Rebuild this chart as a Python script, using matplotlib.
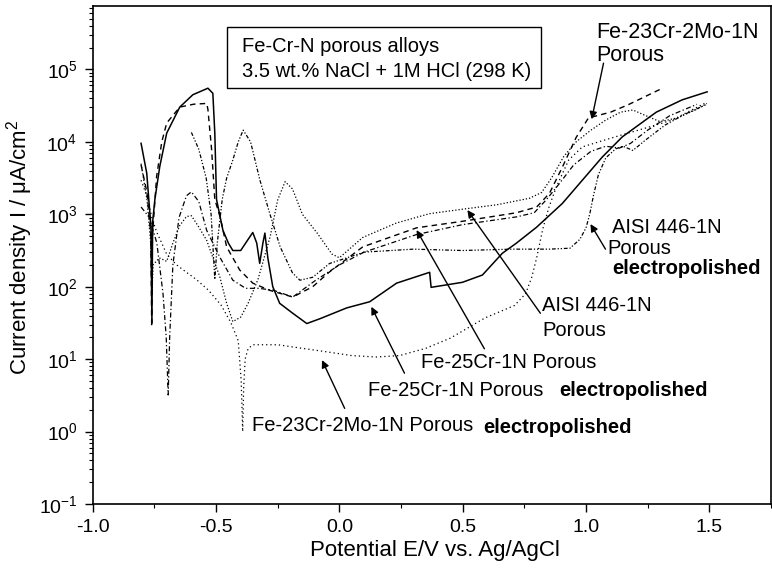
import matplotlib
matplotlib.use('Agg')
import matplotlib.pyplot as plt
from matplotlib.patches import Rectangle
from matplotlib.ticker import LogLocator, MultipleLocator, NullFormatter, FormatStrFormatter

plt.rcParams['font.family'] = ['Liberation Sans', 'DejaVu Sans']
plt.rcParams['mathtext.fontset'] = 'custom'
plt.rcParams['mathtext.rm'] = 'Liberation Sans'
plt.rcParams['mathtext.it'] = 'Liberation Sans:italic'
plt.rcParams['mathtext.bf'] = 'Liberation Sans:bold'
plt.rcParams['axes.unicode_minus'] = False

# ---------------- data (potential V, current density uA/cm2) ----------------
# Fe-25Cr-1N Porous electropolished (solid)
fe25_ep_x = [-0.804, -0.781, -0.764, -0.760, -0.757, -0.748, -0.728, -0.700, -0.647, -0.594,
             -0.533, -0.513, -0.505, -0.498, -0.472, -0.450, -0.432, -0.400, -0.370, -0.351,
             -0.335, -0.323, -0.310, -0.302, -0.290, -0.270, -0.242, -0.189, -0.132, -0.080,
             0.030, 0.123, 0.232, 0.366, 0.372, 0.499, 0.580, 0.661, 0.718, 0.799,
             0.904, 0.985, 1.066, 1.147, 1.285, 1.390, 1.491]
fe25_ep_y = [9550, 3700, 680, 32, 790, 1600, 4600, 13200, 30200, 44700,
             55000, 46800, 13200, 1600, 600, 400, 316, 316, 450, 560,
             400, 210, 400, 550, 250, 100, 59, 43, 31, 36,
             51, 62, 112, 158, 98, 115, 145, 290, 400, 660,
             1410, 2950, 6170, 11700, 25700, 38000, 49000]

# Fe-23Cr-2Mo-1N Porous (dashed)
fe23_x = [-0.804, -0.780, -0.764, -0.761, -0.758, -0.741, -0.720, -0.700, -0.647, -0.590,
          -0.538, -0.533, -0.518, -0.505, -0.484, -0.457, -0.404, -0.351, -0.282, -0.189,
          -0.108, -0.040, 0.095, 0.313, 0.499, 0.718, 0.800, 0.852, 0.904, 0.960,
          1.010, 1.100, 1.170, 1.310]
fe23_y = [4800, 2000, 500, 28, 500, 3300, 10000, 18200, 30200, 33100,
          33900, 28200, 7800, 1600, 930, 355, 170, 112, 89, 72,
          100, 160, 355, 650, 800, 1050, 1260, 1950, 4470, 11500,
          21400, 25700, 32400, 55000]

# Fe-25Cr-1N Porous (dash-dot)
fe25_x = [-0.804, -0.770, -0.740, -0.715, -0.702, -0.694, -0.688, -0.675, -0.650, -0.620,
          -0.600, -0.570, -0.538, -0.485, -0.432, -0.380, -0.330, -0.270, -0.189, -0.100,
          0.000, 0.100, 0.313, 0.500, 0.718, 0.790, 0.840, 0.890, 0.950, 1.020,
          1.080, 1.135, 1.180, 1.250, 1.340, 1.450]
fe25_y = [1260, 900, 400, 80, 20, 3.2, 20, 200, 900, 1800,
          2040, 1500, 600, 257, 123, 95, 95, 90, 72, 120,
          200, 300, 525, 720, 920, 1050, 1600, 2600, 4800, 7400,
          8700, 8200, 9500, 14500, 23000, 33000]

# AISI 446-1N Porous electropolished (dash-dot-dot)
aisi_ep_x = [-0.600, -0.570, -0.540, -0.520, -0.505, -0.495, -0.475, -0.457, -0.432, -0.410,
             -0.390, -0.360, -0.322, -0.282, -0.240, -0.190, -0.160, -0.108, -0.040, 0.100,
             0.300, 0.500, 0.700, 0.850, 0.935, 0.975, 1.000, 1.015, 1.030, 1.050,
             1.080, 1.120, 1.150, 1.190, 1.240, 1.320, 1.400, 1.490]
aisi_ep_y = [13500, 7900, 3160, 1000, 126, 400, 1600, 3160, 5600, 10000,
             14500, 10000, 2950, 1020, 355, 155, 123, 135, 209, 300,
             330, 316, 330, 330, 340, 450, 650, 1000, 1800, 3500,
             6000, 8000, 8700, 7600, 10500, 17000, 24000, 33000]

# AISI 446-1N Porous (fine dotted)
aisi_x = [-0.804, -0.780, -0.765, -0.760, -0.755, -0.730, -0.700, -0.675, -0.647, -0.620,
          -0.600, -0.575, -0.538, -0.485, -0.457, -0.432, -0.400, -0.370, -0.330, -0.280,
          -0.250, -0.220, -0.190, -0.150, -0.090, -0.030, 0.000, 0.095, 0.232, 0.366,
          0.520, 0.637, 0.770, 0.820, 0.860, 0.910, 0.960, 1.020, 1.080, 1.140,
          1.190, 1.250, 1.300, 1.370, 1.450, 1.490]
aisi_y = [5000, 1600, 400, 80, 200, 250, 224, 400, 700, 930,
          955, 710, 437, 138, 59, 33, 38, 59, 126, 500,
          1580, 2820, 2240, 1000, 550, 282, 251, 479, 759, 1020,
          1200, 1350, 1660, 2000, 3160, 6300, 10000, 14500, 20000, 25700,
          27500, 22400, 19000, 21400, 28200, 33900]

# Fe-23Cr-2Mo-1N Porous electropolished (dotted)
fe23_ep_x = [-0.804, -0.780, -0.760, -0.740, -0.720, -0.700, -0.660, -0.620, -0.580, -0.530,
             -0.480, -0.440, -0.410, -0.398, -0.392, -0.388, -0.382, -0.370, -0.350, -0.250,
             -0.150, -0.050, 0.050, 0.150, 0.244, 0.350, 0.450, 0.590, 0.710, 0.755,
             0.780, 0.800, 0.825, 0.850, 0.880, 0.930, 0.985, 1.080, 1.150, 1.250,
             1.350, 1.480]
fe23_ep_y = [2950, 1780, 890, 560, 400, 280, 200, 158, 126, 89,
             56, 32, 18, 5, 1.0, 4, 10, 14, 15.8, 15.8,
             14.1, 12.6, 11.2, 10.7, 11.2, 14.1, 19.5, 37, 55, 80,
             135, 251, 631, 1260, 2400, 5620, 8510, 10700, 12600, 15800,
             20000, 33900]

# ---------------- figure ----------------
fig = plt.figure(figsize=(7.72, 5.73), dpi=100)
ax = fig.add_axes([0.1201, 0.1204, 0.8786, 0.8691])

k = 'black'
ax.plot(fe25_ep_x, fe25_ep_y, color=k, lw=1.1, ls='-')
ax.plot(fe23_x, fe23_y, color=k, lw=1.0, ls=(0, (4, 3)))
ax.plot(fe25_x, fe25_y, color=k, lw=0.9, ls=(0, (4, 2, 1, 2)))
ax.plot(aisi_ep_x, aisi_ep_y, color=k, lw=0.9, ls=(0, (3, 1.5, 1, 1.5, 1, 1.5)))
ax.plot(aisi_x, aisi_y, color=k, lw=0.9, ls=(0, (1, 1.6)))
ax.plot(fe23_ep_x, fe23_ep_y, color=k, lw=0.9, ls=(0, (1, 2.4)))

ax.set_xlim(-1.0, 1.75)
ax.set_yscale('log')
ax.set_ylim(0.1, 7.5e5)

ax.xaxis.set_major_locator(MultipleLocator(0.5))
ax.xaxis.set_minor_locator(MultipleLocator(0.25))
ax.xaxis.set_major_formatter(FormatStrFormatter('%.1f'))
ax.yaxis.set_major_locator(LogLocator(base=10, numticks=20))
ax.yaxis.set_minor_locator(LogLocator(base=10, subs=range(2, 10), numticks=20))
ax.yaxis.set_minor_formatter(NullFormatter())

ax.tick_params(which='major', direction='out', length=6, width=1.0, labelsize=14, pad=5,
               top=False, right=False)
ax.tick_params(which='minor', direction='out', length=3, width=0.8, top=False, right=False)
for s in ax.spines.values():
    s.set_linewidth(1.2)

ax.set_xlabel('Potential E/V vs. Ag/AgCl', fontsize=16)
ax.set_ylabel('Current density I / \u03bcA/cm$^2$', fontsize=16)
ax.xaxis.set_label_coords(0.505, -0.073)
ax.yaxis.set_label_coords(-0.085, 0.516)

# info box
ax.add_patch(Rectangle((0.1976, 0.835), 0.4634, 0.123, transform=ax.transAxes,
                       fill=True, fc='white', ec=k, lw=1.0, zorder=5))
ax.text(0.2197, 0.9082, 'Fe-Cr-N porous alloys', transform=ax.transAxes,
        fontsize=14.5, va='baseline', ha='left', zorder=6)
ax.text(0.2197, 0.8568, '3.5 wt.% NaCl + 1M HCl (298 K)', transform=ax.transAxes,
        fontsize=14.5, va='baseline', ha='left', zorder=6)

fs = 14.5
def label(x, y, s, bold=False, size=fs):
    ax.text(x, y, s, fontsize=size, va='baseline', ha='left',
            fontweight='bold' if bold else 'normal')

def arrow(head, tail):
    ax.annotate('', xy=head, xytext=tail,
                arrowprops=dict(arrowstyle='-|>', color=k, lw=1.0,
                                mutation_scale=11, shrinkA=0, shrinkB=0))

label(1.040, 2.75e5, 'Fe-23Cr-2Mo-1N', size=15.5)
label(1.042, 1.29e5, 'Porous', size=15.5)
arrow((1.023, 2.05e4), (1.071, 1.22e5))

label(1.106, 550, 'AISI 446-1N')
label(1.087, 283, 'Porous')
label(1.106, 150, 'electropolished', bold=True)
arrow((1.018, 733), (1.079, 330))

label(0.823, 45.7, 'AISI 446-1N')
label(0.823, 21, 'Porous')
arrow((0.519, 1143), (0.815, 43))

label(0.333, 7.5, 'Fe-25Cr-1N Porous')
arrow((0.313, 605), (0.588, 13.9))

label(0.116, 3.05, 'Fe-25Cr-1N Porous')
label(0.892, 3.05, 'electropolished', bold=True)
arrow((0.1296, 52.8), (0.264, 6.4))

label(-0.356, 1.02, 'Fe-23Cr-2Mo-1N Porous')
label(0.582, 0.95, 'electropolished', bold=True)
arrow((-0.0704, 9.7), (0.0215, 2.09))

fig.savefig('out.png', dpi=100)
